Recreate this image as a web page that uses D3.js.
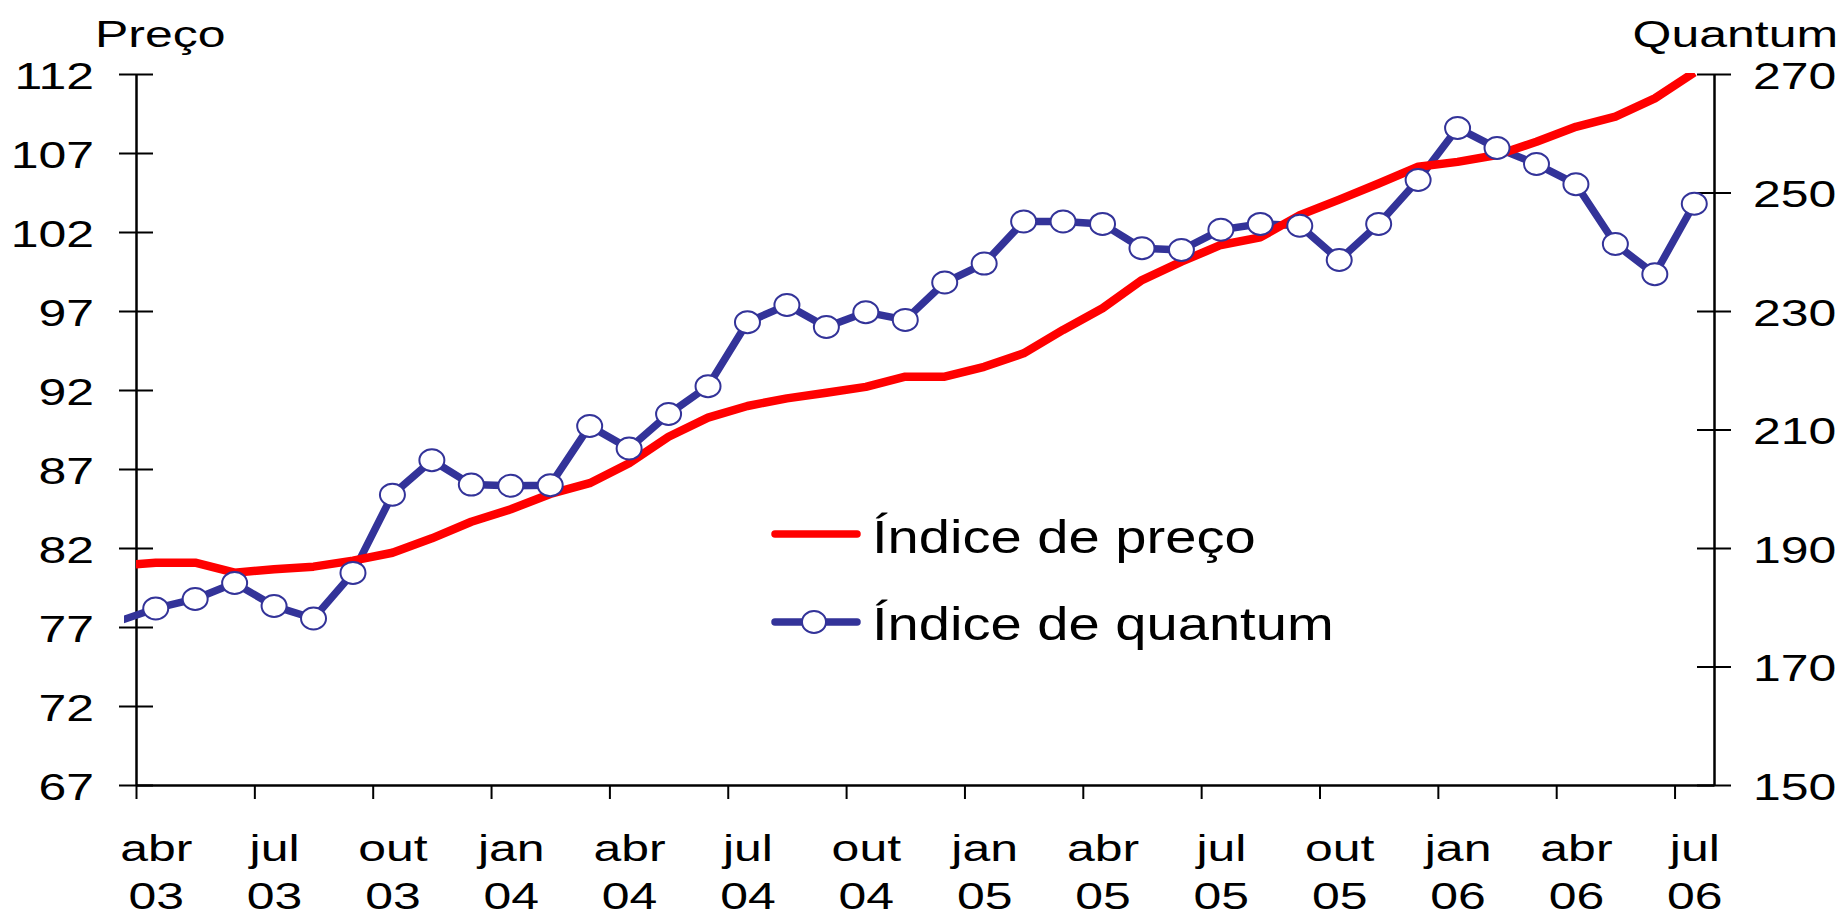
<!DOCTYPE html>
<html>
<head>
<meta charset="utf-8">
<script src="https://cdn.jsdelivr.net/npm/d3@7"></script>
<style>
  body { margin: 0; background: #fff; }
  text { font-family: "Liberation Sans", Arial, sans-serif; fill: #000; }
</style>
</head>
<body>
<div id="chart"></div>
<script>
// monthly data, mar/03 .. jul/06 (mar/03 only feeds the clipped start of the lines)
var months = ["mar03","abr03","mai03","jun03","jul03","ago03","set03","out03","nov03","dez03",
	"jan04","fev04","mar04","abr04","mai04","jun04","jul04","ago04","set04","out04","nov04","dez04",
	"jan05","fev05","mar05","abr05","mai05","jun05","jul05","ago05","set05","out05","nov05","dez05",
	"jan06","fev06","mar06","abr06","mai06","jun06","jul06"];

var precoValues = [80.87, 81.07, 81.07, 80.44, 80.65, 80.82, 81.2, 81.7, 82.61, 83.66,
	84.45, 85.42, 86.1, 87.36, 89.04, 90.25, 90.99, 91.47, 91.83, 92.2, 92.84, 92.84,
	93.47, 94.32, 95.8, 97.17, 98.96, 100.12, 101.18, 101.66, 103.07, 104.05, 105.07, 106.13,
	106.44, 106.87, 107.71, 108.66, 109.3, 110.46, 112.1];

var quantumValues = [177.5, 179.8, 181.4, 184.1, 180.2, 178.1, 185.8, 199.0, 204.8, 200.7,
	200.5, 200.6, 210.6, 206.8, 212.6, 217.3, 228.1, 231.0, 227.3, 229.8, 228.5, 234.8,
	238.0, 245.1, 245.1, 244.7, 240.6, 240.3, 243.7, 244.7, 244.4, 238.6, 244.7, 252.1,
	260.9, 257.5, 254.8, 251.4, 241.3, 236.2, 248.1];

var xTickLabels = [["abr","03"],["jul","03"],["out","03"],["jan","04"],["abr","04"],["jul","04"],
	["out","04"],["jan","05"],["abr","05"],["jul","05"],["out","05"],["jan","06"],["abr","06"],["jul","06"]];
var precoTicks = [67, 72, 77, 82, 87, 92, 97, 102, 107, 112];
var quantumTicks = [150, 170, 190, 210, 230, 250, 270];

var legendLabels = ["Índice de preço", "Índice de quantum"];

function drawChart() {
	var width = 1845, height = 918;
	var pLeft = 136, pRight = 1714, pTop = 74, pBottom = 785;
	var red = "#ff0000", blue = "#333399";
	var sx = 1.35; // the source text is drawn wide

	var svg = d3.select("#chart").append("svg")
		.attr("width", width)
		.attr("height", height);

	// month index: abr03 = 0 ... jul06 = 39, points sit mid-month
	var x = d3.scaleLinear().domain([0, 40]).range([pLeft, pRight]);
	var yP = d3.scaleLinear().domain([67, 112]).range([pBottom, pTop]);
	var yQ = d3.scaleLinear().domain([150, 270]).range([pBottom, pTop]);

	var data = months.map(function(m, i) {
		return { m: i - 1, preco: precoValues[i], quantum: quantumValues[i] };
	});

	var defs = svg.append("defs");
	defs.append("clipPath").attr("id", "clipRed").append("rect")
		.attr("x", pLeft).attr("y", pTop - 1).attr("width", pRight - pLeft).attr("height", pBottom - pTop);
	defs.append("clipPath").attr("id", "clipBlue").append("rect")
		.attr("x", 124).attr("y", 0).attr("width", pRight - 124).attr("height", pBottom);

	// axes
	var yAxisL = svg.append("g")
		.attr("transform", `translate(${pLeft},0)`)
		.call(d3.axisLeft(yP).tickValues(precoTicks).tickSize(17).tickSizeOuter(0).tickFormat(""));
	var yAxisR = svg.append("g")
		.attr("transform", `translate(${pRight},0)`)
		.call(d3.axisRight(yQ).tickValues(quantumTicks).tickSize(17).tickSizeOuter(0).tickFormat(""));
	var xAxis = svg.append("g")
		.attr("transform", `translate(0,${pBottom})`)
		.call(d3.axisBottom(x).tickValues(d3.range(0, 40, 3)).tickSize(14).tickSizeOuter(0).tickFormat(""));

	[yAxisL, yAxisR, xAxis].forEach(function(g) {
		g.select(".domain").attr("stroke", "#000").attr("stroke-width", 2.5);
		g.selectAll(".tick line").attr("stroke", "#000").attr("stroke-width", 2);
	});
	yAxisL.selectAll(".tick line").attr("x1", 17);
	yAxisR.selectAll(".tick line").attr("x1", -17);

	yAxisL.selectAll(".tick").append("text")
		.attr("text-anchor", "end")
		.attr("transform", `translate(-42,14) scale(${sx},1)`)
		.style("font-size", "37px")
		.text(function(d) { return d; });
	yAxisR.selectAll(".tick").append("text")
		.attr("text-anchor", "start")
		.attr("transform", `translate(39,14) scale(${sx},1)`)
		.style("font-size", "37px")
		.text(function(d) { return d; });

	var step = x(1) - x(0);
	xAxis.selectAll(".tick").each(function(d, i) {
		var t = d3.select(this);
		t.append("text")
			.attr("text-anchor", "middle")
			.attr("transform", `translate(${step / 2},76) scale(${sx},1)`)
			.style("font-size", "37px")
			.text(xTickLabels[i][0]);
		t.append("text")
			.attr("text-anchor", "middle")
			.attr("transform", `translate(${step / 2},124) scale(${sx},1)`)
			.style("font-size", "37px")
			.text(xTickLabels[i][1]);
	});

	// axis titles
	svg.append("text")
		.attr("transform", `translate(95,47) scale(${sx},1)`)
		.style("font-size", "37px")
		.text("Preço");
	svg.append("text")
		.attr("text-anchor", "end")
		.attr("transform", `translate(1838,47) scale(${sx},1)`)
		.style("font-size", "37px")
		.text("Quantum");

	// series
	var lineQ = d3.line().x(d => x(d.m + 0.5)).y(d => yQ(d.quantum));
	var lineP = d3.line().x(d => x(d.m + 0.5)).y(d => yP(d.preco));

	svg.append("path")
		.datum(data)
		.attr("clip-path", "url(#clipBlue)")
		.attr("d", lineQ)
		.attr("fill", "none")
		.attr("stroke", blue)
		.attr("stroke-width", 7.5)
		.attr("stroke-linejoin", "round");

	svg.append("path")
		.datum(data)
		.attr("clip-path", "url(#clipRed)")
		.attr("d", lineP)
		.attr("fill", "none")
		.attr("stroke", red)
		.attr("stroke-width", 8.5)
		.attr("stroke-linejoin", "round");

	svg.selectAll("ellipse.pt")
		.data(data.filter(d => d.m >= 0))
		.enter()
		.append("ellipse")
		.attr("class", "pt")
		.attr("cx", d => x(d.m + 0.5))
		.attr("cy", d => yQ(d.quantum))
		.attr("rx", 12.5)
		.attr("ry", 11)
		.attr("fill", "#fff")
		.attr("stroke", blue)
		.attr("stroke-width", 2);

	// legend
	var legend = svg.append("g").attr("transform", "translate(775,534)");
	legend.append("line")
		.attr("x1", 0).attr("x2", 82).attr("y1", 0).attr("y2", 0)
		.attr("stroke", red).attr("stroke-width", 7.5).attr("stroke-linecap", "round");
	legend.append("line")
		.attr("x1", 0).attr("x2", 82).attr("y1", 88).attr("y2", 88)
		.attr("stroke", blue).attr("stroke-width", 7.5).attr("stroke-linecap", "round");
	legend.append("ellipse")
		.attr("cx", 39).attr("cy", 88).attr("rx", 12).attr("ry", 11)
		.attr("fill", "#fff").attr("stroke", blue).attr("stroke-width", 2);
	legend.selectAll("text.lab")
		.data(legendLabels)
		.enter()
		.append("text")
		.attr("class", "lab")
		.attr("transform", (d, i) => `translate(97,${19 + i * 87}) scale(1.22,1)`)
		.style("font-size", "46px")
		.text(d => d);
}

drawChart();
</script>
</body>
</html>
